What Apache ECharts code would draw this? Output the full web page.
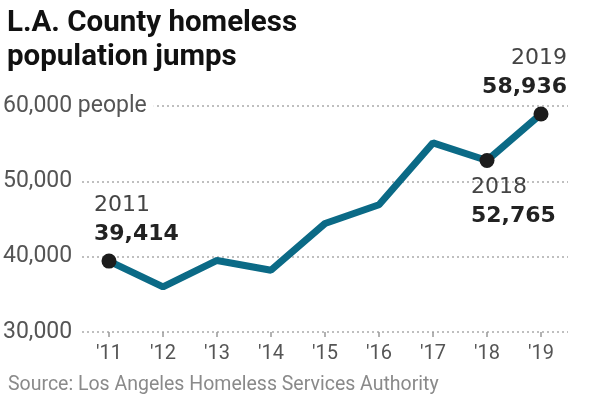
<!DOCTYPE html>
<html>
<head>
<meta charset="utf-8">
<script src="https://cdn.jsdelivr.net/npm/echarts@6/dist/echarts.min.js"></script>
<style>
  html, body { margin: 0; padding: 0; background: #fff; }
  #chart { width: 600px; height: 402px; }
</style>
</head>
<body>
<div id="chart"></div>
<script>
'use strict';

// chart data
var years = ['\'11', '\'12', '\'13', '\'14', '\'15', '\'16', '\'17', '\'18', '\'19'];
var homeless = [39414, 36000, 39500, 38200, 44400, 46900, 55100, 52765, 58936];
var yTicks = [30000, 40000, 50000, 60000];
var callouts = [
    { index: 0, year: '2011', value: '39,414' },
    { index: 7, year: '2018', value: '52,765' },
    { index: 8, year: '2019', value: '58,936' }
];

(function (echarts) {

    var FONT = 'Roboto, "Liberation Sans", sans-serif';
    var WIDE = '"DejaVu Sans", sans-serif';
    var LINE = '#0b6a86';

    // label placement per callout (relative to its point)
    var placement = {
        0: { position: 'top', align: 'left', offset: [-15, 0], distance: 5 },
        7: { position: 'bottom', align: 'left', offset: [-16, 0], distance: 5 },
        8: { position: 'top', align: 'right', offset: [26, 0], distance: 5 }
    };

    var seriesData = homeless.map(function (v, i) {
        var c = callouts.filter(function (c) { return c.index === i; })[0];
        if (!c) return { value: v, symbolSize: 0 };
        var p = placement[i];
        return {
            value: v,
            symbol: 'circle',
            symbolSize: 15,
            itemStyle: { color: '#1c1c1c' },
            label: {
                show: true,
                position: p.position,
                distance: p.distance,
                align: p.align,
                offset: p.offset,
                formatter: '{y|' + c.year + '}\n{v|' + c.value + '}',
                rich: {
                    y: { fontFamily: WIDE, fontSize: 22, color: '#444', lineHeight: 29, align: p.align },
                    v: { fontFamily: WIDE, fontSize: 22, fontWeight: 'bold', color: '#222', lineHeight: 29, align: p.align }
                }
            }
        };
    });

    var chart = echarts.init(document.getElementById('chart'), null, { renderer: 'canvas' });

    chart.setOption({
        animation: false,
        backgroundColor: '#fff',
        title: [{
            text: 'L.A. County homeless\npopulation jumps',
            left: 7,
            top: 7,
            padding: 0,
            textStyle: { fontFamily: FONT, fontSize: 29.5, fontWeight: 'bold', color: '#111', lineHeight: 34 }
        }, {
            text: 'Source: Los Angeles Homeless Services Authority',
            left: 8,
            top: 375,
            padding: 0,
            textStyle: { fontFamily: FONT, fontSize: 19.5, fontWeight: 'normal', color: '#8a8a8a', lineHeight: 20 }
        }],
        grid: { left: 82, right: 32, top: 106, bottom: 70 },
        xAxis: {
            type: 'category',
            data: years,
            boundaryGap: true,
            axisLine: { show: false },
            axisTick: { show: true, alignWithLabel: true, length: 5, lineStyle: { color: '#999', width: 1.5 } },
            axisLabel: { fontFamily: FONT, fontSize: 20, color: '#555', margin: 12 }
        },
        yAxis: {
            type: 'value',
            min: 30000,
            max: 60000,
            interval: 10000,
            axisLine: { show: false },
            axisTick: { show: false },
            splitLine: { lineStyle: { color: '#aaa', type: [2, 3], width: 1.5 } },
            axisLabel: {
                align: 'left',
                margin: 79,
                fontFamily: FONT,
                fontSize: 23,
                color: '#555',
                formatter: function (v) {
                    if (yTicks.indexOf(v) === -1) return '';
                    var s = echarts.format.addCommas(v);
                    return v === 60000 ? '{w|' + s + ' people}' : s;
                },
                rich: {
                    w: { fontFamily: FONT, fontSize: 23, color: '#555', backgroundColor: '#fff', padding: [2, 7, 2, 0] }
                }
            }
        },
        series: [{
            type: 'line',
            data: seriesData,
            lineStyle: { color: LINE, width: 7 },
            itemStyle: { color: LINE },
            symbol: 'circle',
            showSymbol: true,
            z: 3
        }]
    });

})(echarts);
</script>
</body>
</html>
